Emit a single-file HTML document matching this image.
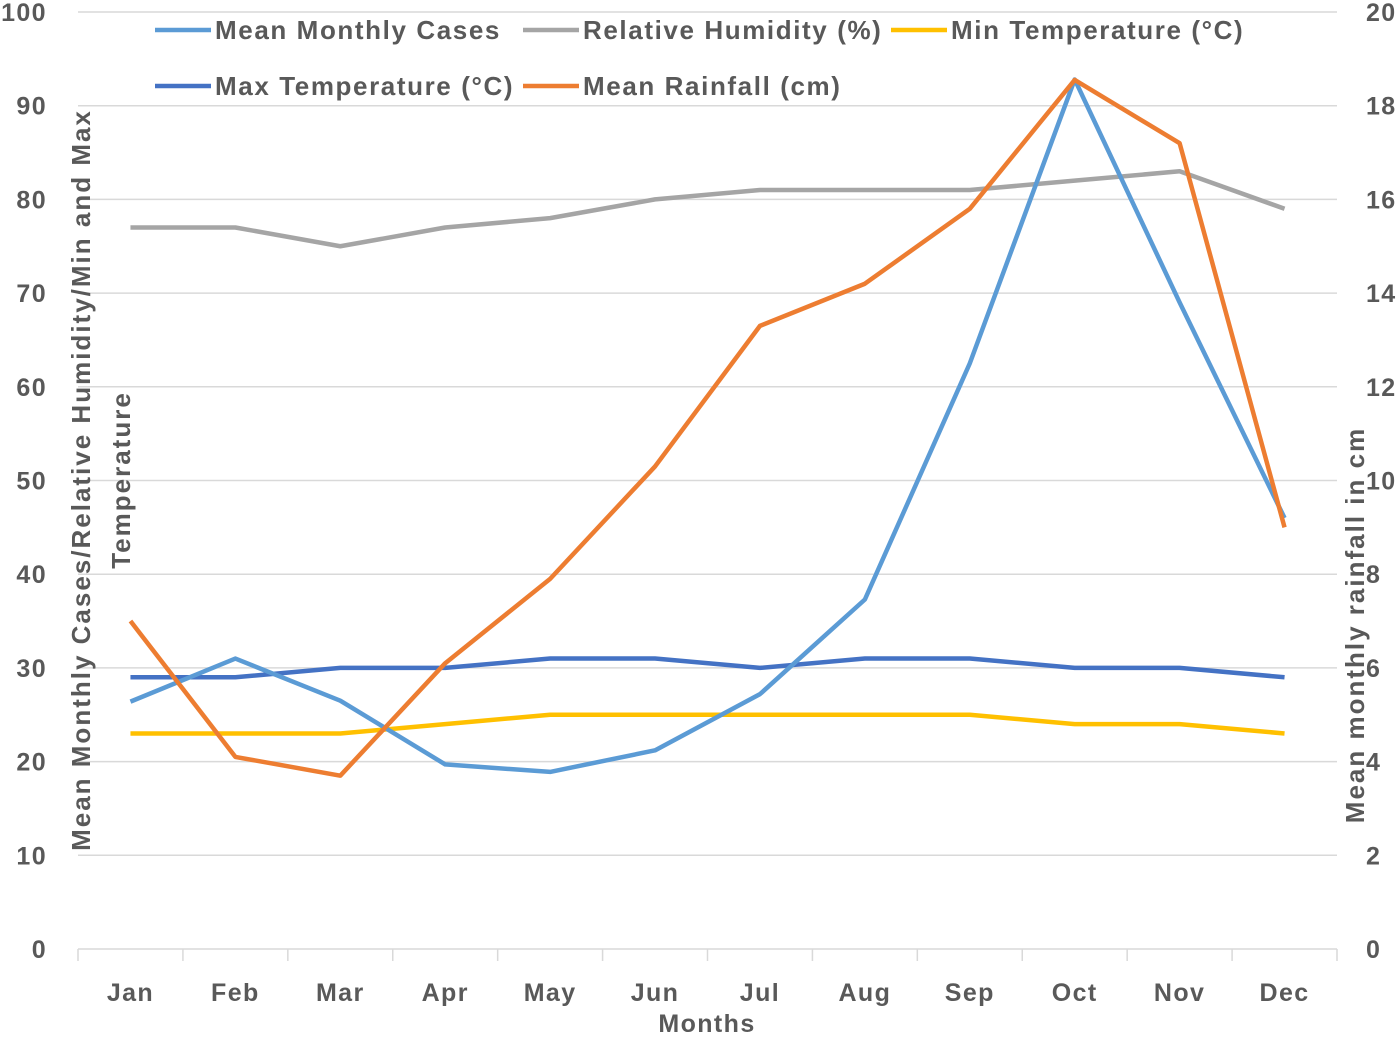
<!DOCTYPE html>
<html><head><meta charset="utf-8"><style>
body{margin:0;background:#fff}
svg text{font-family:"Liberation Sans",sans-serif;font-weight:bold;fill:#595959;letter-spacing:1.4px}
svg text.title{letter-spacing:2px}
</style></head><body>
<svg id="c" width="1400" height="1034"></svg>
<script>
const months=["Jan","Feb","Mar","Apr","May","Jun","Jul","Aug","Sep","Oct","Nov","Dec"];
const cases=[26.4,31,26.5,19.7,18.9,21.2,27.2,37.3,62.5,92.8,69,46];
const humidity=[77,77,75,77,78,80,81,81,81,82,83,79];
const minTemp=[23,23,23,24,25,25,25,25,25,24,24,23];
const maxTemp=[29,29,30,30,31,31,30,31,31,30,30,29];
const rainfall=[7.0,4.1,3.7,6.1,7.9,10.3,13.3,14.2,15.8,18.55,17.2,9.0];
const leftTicks=[0,10,20,30,40,50,60,70,80,90,100];
const rightTicks=[0,2,4,6,8,10,12,14,16,18,20];
const X0=78,X1=1337,Y0=949,Y1=12;
const step=(X1-X0)/12;
const x=i=>X0+step*(i+0.5);
const yL=v=>Y0-(v/100)*(Y0-Y1);
const yR=v=>Y0-(v/20)*(Y0-Y1);
const svg=document.getElementById('c');
const NS="http://www.w3.org/2000/svg";
function mk(t,a,txt){const e=document.createElementNS(NS,t);for(const k in a)e.setAttribute(k,a[k]);if(txt!==undefined)e.textContent=txt;svg.appendChild(e);return e;}
leftTicks.forEach((v,i)=>{
 if(v>0){const g=mk('line',{x1:X0,x2:X1,y1:yL(v),y2:yL(v),stroke:'#d9d9d9','stroke-width':1.5});
 
 }
 const t=mk('text',{x:47,y:yL(v)+9,'text-anchor':'end','font-size':25},v);
 
 
});
rightTicks.forEach(v=>{
 const t=mk('text',{x:1366,y:yR(v)+9,'font-size':25},v);
 
 
});
const ax=mk('line',{x1:X0,x2:X1,y1:Y0,y2:Y0,stroke:'#d9d9d9','stroke-width':1.5});


for(let i=0;i<=12;i++){const tk=mk('line',{x1:X0+step*i,x2:X0+step*i,y1:Y0,y2:Y0+12,stroke:'#d9d9d9','stroke-width':1.5});
 
 }
months.forEach((m,i)=>{const t=mk('text',{x:x(i),y:1001,'text-anchor':'middle','font-size':25},m);
 
 });
let t=mk('text',{x:707,y:1032,'text-anchor':'middle','font-size':25},'Months');

t=mk('text',{transform:'translate(90,480) rotate(-90)','text-anchor':'middle','font-size':26,'class':'title'},'Mean Monthly Cases/Relative Humidity/Min and Max');

t=mk('text',{transform:'translate(130,480) rotate(-90)','text-anchor':'middle','font-size':26,'class':'title'},'Temperature');

t=mk('text',{transform:'translate(1364,625) rotate(-90)','text-anchor':'middle','font-size':26,'class':'title'},'Mean monthly rainfall in cm');

const series=[
 {d:humidity,c:'#a5a5a5',f:yL,n:'humidity-line'},
 {d:minTemp,c:'#ffc000',f:yL,n:'min-temp-line'},
 {d:maxTemp,c:'#4472c4',f:yL,n:'max-temp-line'},
 {d:cases,c:'#5b9bd5',f:yL,n:'cases-line'},
 {d:rainfall,c:'#ed7d31',f:yR,n:'rainfall-line'}];
series.forEach(s=>{
 const p=mk('polyline',{points:s.d.map((v,i)=>x(i)+','+s.f(v)).join(' '),fill:'none',stroke:s.c,'stroke-width':4.5,'stroke-linejoin':'round'});
 
 
});
const leg=[["Mean Monthly Cases",'#5b9bd5',155,30],["Relative Humidity (%)",'#a5a5a5',523,30],["Min Temperature (°C)",'#ffc000',891,30],["Max Temperature (°C)",'#4472c4',155,86],["Mean Rainfall (cm)",'#ed7d31',523,86]];
leg.forEach(l=>{
 const ln=mk('line',{x1:l[2],x2:l[2]+56,y1:l[3],y2:l[3],stroke:l[1],'stroke-width':4.5});
 
 
 const tx=mk('text',{x:l[2]+60,y:l[3]+9,'font-size':26,'style':'letter-spacing:1.6px'},l[0]);
 
 
});
</script>
</body></html>
